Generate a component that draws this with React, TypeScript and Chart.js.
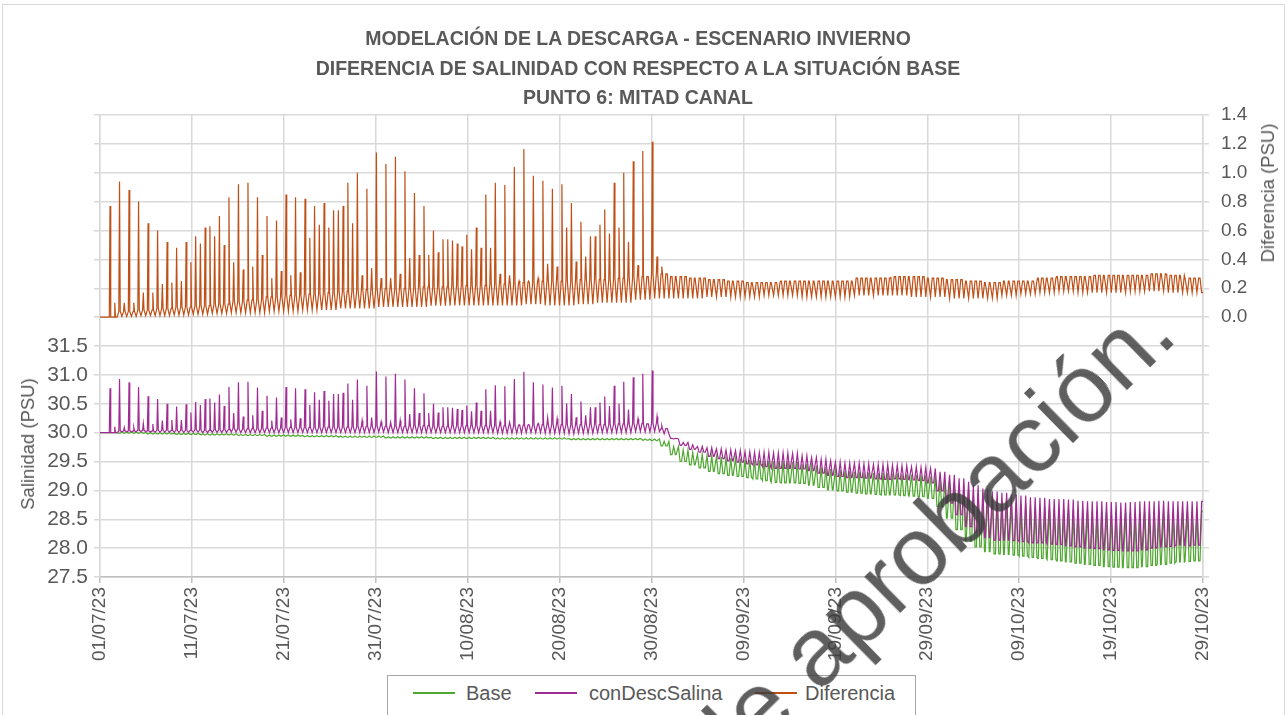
import React, { useEffect, useRef } from 'react';
import { Chart, registerables } from 'chart.js';

Chart.register(...registerables);

// ---------- Text ----------
const TITLE_LINES = [
  'MODELACIÓN DE LA DESCARGA - ESCENARIO INVIERNO',
  'DIFERENCIA DE SALINIDAD CON RESPECTO A LA SITUACIÓN BASE',
  'PUNTO 6: MITAD CANAL',
];
const SERIES_NAMES = ['Base', 'conDescSalina', 'Diferencia'];
const SERIES_COLORS = ['#4EA72E', '#A02B93', '#C04F15'];
const LEFT_AXIS_TITLE = 'Salinidad (PSU)';
const RIGHT_AXIS_TITLE = 'Diferencia (PSU)';
const WATERMARK_TEXT = 'Pendiente de aprobación.';

// ---------- Axes ----------
const START_YEAR = 2023;
const START_MONTH = 7; // July
const START_DAY = 1;
const TOTAL_DAYS = 120;
const X_TICK_STEP_DAYS = 10;
const LEFT_MIN = 27.5;
const LEFT_MAX = 35.5;
const LEFT_STEP = 0.5;
const LEFT_LAST_LABEL = 31.5;
const RIGHT_MIN = -1.8;
const RIGHT_MAX = 1.4;
const RIGHT_STEP = 0.2;
const RIGHT_FIRST_LABEL = 0;

// ---------- Data ----------
// Semi-diurnal tidal sampling of the series (crest / trough per tide cycle)
const TIDE_PERIOD_DAYS = 0.5175;
const FIRST_CREST_DAY = 0.055;

// Base salinity, daily envelope (day 0 .. 119): tide-cycle high and low values
const baseHigh = [
  30.00, 30.00, 30.01, 30.01, 30.01, 30.00, 30.00, 30.00, 29.99, 29.99,
  29.99, 29.98, 29.98, 29.98, 29.98, 29.97, 29.97, 29.97, 29.96, 29.96,
  29.96, 29.96, 29.95, 29.95, 29.95, 29.95, 29.94, 29.94, 29.94, 29.94,
  29.94, 29.93, 29.93, 29.93, 29.93, 29.93, 29.92, 29.92, 29.92, 29.92,
  29.92, 29.92, 29.92, 29.91, 29.91, 29.91, 29.91, 29.91, 29.91, 29.91,
  29.91, 29.90, 29.90, 29.90, 29.90, 29.90, 29.90, 29.90, 29.90, 29.89,
  29.89, 29.85, 29.76, 29.70, 29.66, 29.63, 29.60, 29.58, 29.56, 29.55,
  29.53, 29.52, 29.51, 29.50, 29.50, 29.49, 29.46, 29.43, 29.40, 29.37,
  29.35, 29.33, 29.32, 29.31, 29.30, 29.30, 29.29, 29.28, 29.27, 29.26,
  29.24, 29.18, 29.14, 29.08, 29.02, 28.96, 28.90, 28.85, 28.81, 28.78,
  28.75, 28.72, 28.70, 28.68, 28.67, 28.66, 28.65, 28.64, 28.64, 28.63,
  28.63, 28.62, 28.62, 28.63, 28.63, 28.64, 28.64, 28.64, 28.64, 28.64,
];
const baseLow = [
  30.00, 30.00, 29.99, 29.99, 29.99, 29.98, 29.98, 29.98, 29.97, 29.97,
  29.97, 29.96, 29.96, 29.96, 29.96, 29.95, 29.95, 29.95, 29.94, 29.94,
  29.94, 29.94, 29.93, 29.93, 29.93, 29.93, 29.92, 29.92, 29.92, 29.92,
  29.92, 29.91, 29.91, 29.91, 29.91, 29.91, 29.90, 29.90, 29.90, 29.90,
  29.90, 29.90, 29.90, 29.89, 29.89, 29.89, 29.89, 29.89, 29.89, 29.89,
  29.89, 29.88, 29.88, 29.88, 29.88, 29.88, 29.88, 29.88, 29.88, 29.87,
  29.86, 29.77, 29.62, 29.50, 29.44, 29.39, 29.33, 29.29, 29.26, 29.24,
  29.22, 29.20, 29.17, 29.14, 29.13, 29.13, 29.12, 29.09, 29.05, 29.01,
  28.99, 28.97, 28.95, 28.94, 28.93, 28.92, 28.92, 28.91, 28.90, 28.89,
  28.86, 28.72, 28.52, 28.32, 28.12, 28.02, 27.94, 27.90, 27.89, 27.88,
  27.86, 27.84, 27.82, 27.80, 27.78, 27.76, 27.74, 27.72, 27.70, 27.68,
  27.67, 27.66, 27.66, 27.68, 27.70, 27.72, 27.74, 27.76, 27.77, 27.78,
];

// Diferencia, 2-day envelope (block 0 = days 0-2 ... block 59 = days 118-120)
const difHigh = [
  0.00, 0.04, 0.05, 0.06, 0.07, 0.08, 0.09, 0.11, 0.12, 0.14,
  0.15, 0.16, 0.17, 0.18, 0.19, 0.20, 0.20, 0.21, 0.21, 0.22,
  0.22, 0.23, 0.23, 0.24, 0.25, 0.25, 0.26, 0.26, 0.27, 0.28,
  0.30, 0.28, 0.27, 0.26, 0.25, 0.24, 0.24, 0.25, 0.25, 0.25,
  0.25, 0.27, 0.27, 0.28, 0.28, 0.27, 0.26, 0.25, 0.24, 0.25,
  0.25, 0.27, 0.28, 0.28, 0.29, 0.29, 0.29, 0.30, 0.29, 0.27,
];
const difLow = [
  0.00, 0.005, 0.01, 0.01, 0.015, 0.02, 0.025, 0.03, 0.03, 0.04,
  0.04, 0.05, 0.05, 0.06, 0.06, 0.07, 0.07, 0.07, 0.08, 0.08,
  0.08, 0.08, 0.08, 0.09, 0.08, 0.08, 0.09, 0.10, 0.10, 0.12,
  0.13, 0.13, 0.13, 0.14, 0.14, 0.14, 0.15, 0.15, 0.14, 0.14,
  0.14, 0.15, 0.15, 0.15, 0.14, 0.14, 0.13, 0.13, 0.13, 0.15,
  0.16, 0.17, 0.18, 0.17, 0.17, 0.17, 0.18, 0.18, 0.17, 0.17,
];

// Diferencia crest (spike) values for tide cycles 2 .. 118
const SPIKE_FIRST_CYCLE = 2;
const difSpikes = [
  0.77, 0.10, 0.94, 0.10, 0.88, 0.10, 0.80, 0.17, 0.65, 0.17,
  0.60, 0.23, 0.52, 0.24, 0.48, 0.25, 0.52, 0.38, 0.56, 0.51,
  0.62, 0.63, 0.56, 0.70, 0.50, 0.83, 0.38, 0.92, 0.33, 0.93,
  0.35, 0.83, 0.43, 0.70, 0.27, 0.67, 0.32, 0.85, 0.29, 0.83,
  0.31, 0.82, 0.55, 0.77, 0.64, 0.79, 0.62, 0.74, 0.74, 0.77,
  0.93, 0.65, 1.00, 0.29, 0.89, 0.34, 1.14, 0.27, 1.06, 0.27,
  1.11, 0.30, 1.01, 0.41, 0.86, 0.43, 0.77, 0.43, 0.60, 0.45,
  0.54, 0.54, 0.53, 0.51, 0.49, 0.57, 0.47, 0.62, 0.48, 0.85,
  0.48, 0.93, 0.30, 0.915, 0.29, 1.04, 0.25, 1.165, 0.25, 0.98,
  0.27, 0.945, 0.37, 0.89, 0.35, 0.92, 0.62, 0.79, 0.385, 0.66,
  0.42, 0.56, 0.56, 0.64, 0.745, 0.58, 0.93, 0.62, 1.00, 0.52,
  1.08, 0.36, 1.15, 0.28, 1.215, 0.42, 0.35,
];

type Pt = { x: number; y: number };

function buildSeries() {
  const base: Pt[] = [];
  const dif: Pt[] = [];
  const con: Pt[] = [];
  const dayIdx = (t: number) => Math.min(baseHigh.length - 1, Math.max(0, Math.floor(t)));
  const blkIdx = (t: number) => Math.min(difHigh.length - 1, Math.max(0, Math.floor(t / 2)));
  const push = (t: number, b: number, d: number) => {
    base.push({ x: t, y: b });
    dif.push({ x: t, y: d });
    con.push({ x: t, y: +(b + d).toFixed(3) });
  };
  push(0, baseHigh[0], difLow[0]);
  const nCycles = Math.floor((TOTAL_DAYS - FIRST_CREST_DAY) / TIDE_PERIOD_DAYS) + 1;
  for (let c = 0; c < nCycles; c++) {
    const tc = FIRST_CREST_DAY + c * TIDE_PERIOD_DAYS;
    const sIdx = c - SPIKE_FIRST_CYCLE;
    const spike = sIdx >= 0 && sIdx < difSpikes.length ? difSpikes[sIdx] : null;
    const parts: [number, boolean][] = [[-0.15, false], [0, true], [0.15, false]];
    for (const [dt, peak] of parts) {
      const t = tc + dt * TIDE_PERIOD_DAYS;
      if (t <= 0 || t >= TOTAL_DAYS) continue;
      const crest = difHigh[blkIdx(t)];
      const d = peak && spike !== null ? Math.max(spike, crest) : crest;
      push(t, baseLow[dayIdx(t)], d);
    }
    const tt = tc + 0.5 * TIDE_PERIOD_DAYS;
    if (tt < TOTAL_DAYS) push(tt, baseHigh[dayIdx(tt)], difLow[blkIdx(tt)]);
  }
  push(TOTAL_DAYS, baseHigh[baseHigh.length - 1], difLow[difLow.length - 1]);
  return { base, con, dif };
}

function dateLabel(v: number) {
  const d = new Date(Date.UTC(START_YEAR, START_MONTH - 1, START_DAY + Math.round(v)));
  const dd = String(d.getUTCDate()).padStart(2, '0');
  const mm = String(d.getUTCMonth() + 1).padStart(2, '0');
  const yy = String(d.getUTCFullYear() % 100).padStart(2, '0');
  return `${dd}/${mm}/${yy}`;
}

const FONT = '"Liberation Sans", Arial, sans-serif';
const TEXT_COLOR = '#595959';
const GRID_COLOR = '#d9d9d9';

export default function App() {
  const canvasRef = useRef<HTMLCanvasElement | null>(null);

  useEffect(() => {
    if (!canvasRef.current) return;
    const { base, con, dif } = buildSeries();
    const tickFont = { family: FONT, size: 19 };
    const leftTickFont = { family: FONT, size: 21 };
    const chart = new Chart(canvasRef.current, {
      type: 'line',
      data: {
        datasets: [
          { label: SERIES_NAMES[0], data: base, borderColor: SERIES_COLORS[0], yAxisID: 'y', order: 3 },
          { label: SERIES_NAMES[1], data: con, borderColor: SERIES_COLORS[1], yAxisID: 'y', order: 2 },
          { label: SERIES_NAMES[2], data: dif, borderColor: SERIES_COLORS[2], yAxisID: 'y1', order: 1 },
        ],
      },
      options: {
        animation: false,
        responsive: false,
        maintainAspectRatio: false,
        parsing: false,
        normalized: true,
        elements: {
          point: { radius: 0 },
          line: { borderWidth: 1.2, tension: 0 },
        },
        layout: { padding: { top: 115, left: 0, right: 0, bottom: 0 } },
        plugins: {
          legend: { display: false },
          title: { display: false },
          tooltip: { enabled: false },
        },
        scales: {
          x: {
            type: 'linear',
            min: 0,
            max: TOTAL_DAYS,
            ticks: {
              stepSize: X_TICK_STEP_DAYS,
              autoSkip: false,
              maxTicksLimit: 100,
              minRotation: 90,
              maxRotation: 90,
              padding: 4,
              color: TEXT_COLOR,
              font: tickFont,
              callback: (v: any) => dateLabel(Number(v)),
            },
            grid: { color: GRID_COLOR, lineWidth: 1.5, tickLength: 6, tickColor: '#bfbfbf' },
            border: { color: '#bfbfbf', width: 1.5 },
            afterFit: (s: any) => { s.height = 138; },
          },
          y: {
            position: 'left',
            min: LEFT_MIN,
            max: LEFT_MAX,
            ticks: {
              stepSize: LEFT_STEP,
              maxTicksLimit: 100,
              padding: 6,
              color: TEXT_COLOR,
              font: leftTickFont,
              callback: (v: any) => (Number(v) <= LEFT_LAST_LABEL + 1e-6 ? Number(v).toFixed(1) : ''),
            },
            grid: { color: GRID_COLOR, lineWidth: 1.5, tickLength: 6, tickColor: GRID_COLOR },
            border: { color: GRID_COLOR, width: 1.5 },
            afterFit: (s: any) => { s.width = 100; },
          },
          y1: {
            position: 'right',
            min: RIGHT_MIN,
            max: RIGHT_MAX,
            ticks: {
              stepSize: RIGHT_STEP,
              maxTicksLimit: 100,
              padding: 12,
              color: TEXT_COLOR,
              font: tickFont,
              callback: (v: any) => (Number(v) >= RIGHT_FIRST_LABEL - 1e-6 ? Math.abs(Number(v)).toFixed(1) : ''),
            },
            grid: { drawOnChartArea: false, color: GRID_COLOR, lineWidth: 1.5, tickLength: 6, tickColor: GRID_COLOR },
            border: { color: GRID_COLOR, width: 1.5 },
            afterFit: (s: any) => { s.width = 85; },
          },
        },
      } as any,
    });
    return () => chart.destroy();
  }, []);

  const legendItems = [
    { name: SERIES_NAMES[0], color: SERIES_COLORS[0], lineX: 413, textX: 466 },
    { name: SERIES_NAMES[1], color: SERIES_COLORS[1], lineX: 535, textX: 589 },
    { name: SERIES_NAMES[2], color: SERIES_COLORS[2], lineX: 755, textX: 805 },
  ];

  return (
    <div style={{ position: 'fixed', left: 0, top: 0, width: 1288, height: 715, background: '#fff', overflow: 'hidden', fontFamily: FONT }}>
      <div style={{ position: 'absolute', left: 2, top: 4, width: 1281, height: 730, border: '1px solid #d9d9d9' }} />
      <canvas ref={canvasRef} width={1288} height={715} style={{ position: 'absolute', left: 0, top: 0 }} />
      {TITLE_LINES.map((line, i) => (
        <div key={i} style={{ position: 'absolute', left: 0, width: 1276, top: 27 + i * 29.5, height: 22, lineHeight: '22px', textAlign: 'center', fontWeight: 'bold', fontSize: 19.5, color: TEXT_COLOR, whiteSpace: 'nowrap' }}>{line}</div>
      ))}
      <div style={{ position: 'absolute', left: 28, top: 444, transform: 'translate(-50%, -50%) rotate(-90deg)', whiteSpace: 'nowrap', fontSize: 18.5, color: TEXT_COLOR }}>{LEFT_AXIS_TITLE}</div>
      <div style={{ position: 'absolute', left: 1268, top: 193, transform: 'translate(-50%, -50%) rotate(-90deg)', whiteSpace: 'nowrap', fontSize: 18.5, color: TEXT_COLOR }}>{RIGHT_AXIS_TITLE}</div>
      <div style={{ position: 'absolute', left: 387, top: 675, width: 527, height: 50, border: '1px solid #a6a6a6', background: '#fff' }} />
      {legendItems.map((it) => (
        <React.Fragment key={it.name}>
          <div style={{ position: 'absolute', left: it.lineX, top: 692, width: 42, height: 2, background: it.color }} />
          <div style={{ position: 'absolute', left: it.textX, top: 681, lineHeight: '24px', fontSize: 20, color: TEXT_COLOR, whiteSpace: 'nowrap' }}>{it.name}</div>
        </React.Fragment>
      ))}
      <div style={{ position: 'absolute', left: 1180, top: 338, width: 0, height: 0, transform: 'rotate(-44.5deg)', transformOrigin: '0 0', pointerEvents: 'none' }}>
        <span style={{ position: 'absolute', right: 0, bottom: -15, fontSize: 97, lineHeight: '97px', whiteSpace: 'nowrap', color: 'rgba(60,60,60,0.82)', fontFamily: FONT }}>{WATERMARK_TEXT}</span>
      </div>
    </div>
  );
}
